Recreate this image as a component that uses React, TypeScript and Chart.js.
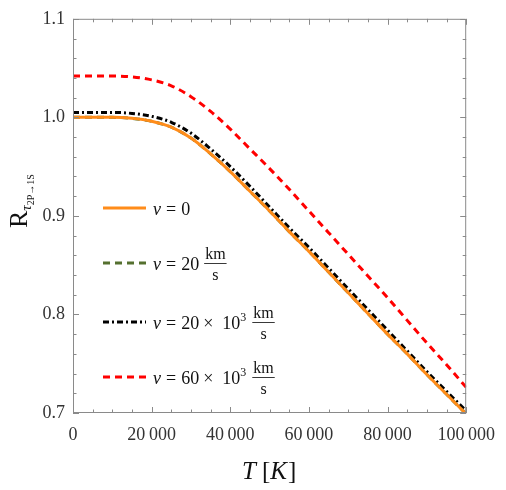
import React, { useEffect, useRef } from 'react';
import { Chart, registerables } from 'chart.js';

Chart.register(...registerables);

// Temperature grid (K)
const temperatures = [0, 5000, 10000, 15000, 20000, 25000, 30000, 35000, 40000, 45000, 50000, 55000, 60000, 65000, 70000, 75000, 80000, 85000, 90000, 95000, 100000];
// v = 0
const rV0 = [1.0, 1.0, 1.0, 0.999, 0.996, 0.99, 0.979, 0.963, 0.945, 0.925, 0.905, 0.884, 0.864, 0.843, 0.822, 0.801, 0.78, 0.76, 0.739, 0.719, 0.699];
// v = 20 km/s
const rV20 = [1.0, 1.0, 1.0, 0.999, 0.996, 0.99, 0.979, 0.963, 0.945, 0.925, 0.905, 0.884, 0.864, 0.843, 0.822, 0.801, 0.78, 0.76, 0.739, 0.719, 0.699];
// v = 20 x 10^3 km/s
const rV20k = [1.005, 1.005, 1.005, 1.004, 1.001, 0.995, 0.984, 0.968, 0.95, 0.93, 0.909, 0.888, 0.868, 0.847, 0.826, 0.805, 0.784, 0.763, 0.742, 0.722, 0.702];
// v = 60 x 10^3 km/s
const rV60k = [1.042, 1.042, 1.042, 1.041, 1.038, 1.032, 1.021, 1.006, 0.988, 0.968, 0.948, 0.927, 0.905, 0.883, 0.861, 0.839, 0.817, 0.794, 0.771, 0.749, 0.726];

const xTickValues = [0, 20000, 40000, 60000, 80000, 100000];
const yTickValues = [0.7, 0.8, 0.9, 1.0, 1.1];

const SERIF = '"Liberation Serif", "DejaVu Serif", serif';
const FRAME = '#8a8a8a';

type Part = { text: string; italic?: boolean; size: number; dy?: number; gap?: number };

function drawRun(ctx: CanvasRenderingContext2D, x: number, y: number, parts: Part[]) {
  for (const p of parts) {
    ctx.font = `${p.italic ? 'italic ' : ''}${p.size}px ${SERIF}`;
    ctx.fillText(p.text, x, y + (p.dy || 0));
    x += ctx.measureText(p.text).width + (p.gap || 0);
  }
  return x;
}

function drawFraction(ctx: CanvasRenderingContext2D, x: number, lineY: number, num: string, den: string, size: number) {
  ctx.font = `${size}px ${SERIF}`;
  const w = Math.max(ctx.measureText(num).width, ctx.measureText(den).width) + 2;
  ctx.textAlign = 'center';
  ctx.fillText(num, x + w / 2, lineY - 4);
  ctx.fillText(den, x + w / 2, lineY + 17);
  ctx.textAlign = 'left';
  ctx.beginPath();
  ctx.lineWidth = 0.9;
  ctx.strokeStyle = '#222';
  ctx.setLineDash([]);
  ctx.moveTo(x, lineY + 0.5);
  ctx.lineTo(x + w, lineY + 0.5);
  ctx.stroke();
  return x + w;
}

const legendItems = [
  { color: '#ff8c1a', dash: [] as number[], y: 208 },
  { color: '#55702f', dash: [7, 5], y: 263 },
  { color: '#000000', dash: [6, 3, 2, 3], y: 322 },
  { color: '#ff0000', dash: [7, 5], y: 377 },
];

const decorPlugin = {
  id: 'decor',
  afterDraw(chart: any) {
    const ctx: CanvasRenderingContext2D = chart.ctx;
    const { left, right, top, bottom } = chart.chartArea;
    const xs = chart.scales.x;
    const ys = chart.scales.y;
    ctx.save();
    // frame
    ctx.strokeStyle = FRAME;
    ctx.lineWidth = 1;
    ctx.setLineDash([]);
    ctx.beginPath();
    ctx.rect(left + 0.5, top + 0.5, right - left - 1, bottom - top - 1);
    ctx.stroke();
    // x ticks (bottom & top)
    ctx.beginPath();
    for (let v = 0; v <= 100000; v += 5000) {
      const px = Math.round(xs.getPixelForValue(v)) + 0.5;
      const len = v % 20000 === 0 ? 6 : 3.5;
      ctx.moveTo(px, bottom);
      ctx.lineTo(px, bottom - len);
      ctx.moveTo(px, top);
      ctx.lineTo(px, top + len);
    }
    // y ticks (left & right)
    for (let i = 0; i <= 20; i++) {
      const v = 0.7 + i * 0.02;
      const py = Math.round(ys.getPixelForValue(v)) + 0.5;
      const len = i % 5 === 0 ? 6 : 3.5;
      ctx.moveTo(left, py);
      ctx.lineTo(left + len, py);
      ctx.moveTo(right, py);
      ctx.lineTo(right - len, py);
    }
    ctx.stroke();

    // legend
    ctx.fillStyle = '#111';
    ctx.textBaseline = 'alphabetic';
    legendItems.forEach((it, i) => {
      ctx.beginPath();
      ctx.strokeStyle = it.color;
      ctx.lineWidth = 3;
      ctx.setLineDash(it.dash);
      ctx.moveTo(103, it.y);
      ctx.lineTo(146, it.y);
      ctx.stroke();
      ctx.setLineDash([]);
      const by = it.y + 7;
      let x = 153;
      if (i === 0) {
        drawRun(ctx, x, by, [
          { text: 'v', italic: true, size: 18, gap: 5 },
          { text: '=', size: 18, gap: 5 },
          { text: '0', size: 18 },
        ]);
      } else if (i === 1) {
        x = drawRun(ctx, x, by, [
          { text: 'v', italic: true, size: 18, gap: 5 },
          { text: '=', size: 18, gap: 5 },
          { text: '20', size: 18, gap: 5 },
        ]);
        drawFraction(ctx, x, it.y, 'km', 's', 16);
      } else {
        const lead = i === 2 ? '20' : '60';
        x = drawRun(ctx, x, by, [
          { text: 'v', italic: true, size: 18, gap: 5 },
          { text: '=', size: 18, gap: 5 },
          { text: lead, size: 18, gap: 4 },
          { text: '\u00d7', size: 18, gap: 9 },
          { text: '10', size: 18 },
          { text: '3', size: 12, dy: -8, gap: 6 },
        ]);
        drawFraction(ctx, x, it.y, 'km', 's', 16);
      }
    });

    // x title
    ctx.fillStyle = '#111';
    ctx.font = `italic 24px ${SERIF}`;
    drawRun(ctx, 242, 479, [
      { text: 'T', italic: true, size: 25, gap: 6 },
      { text: '[', size: 25 },
      { text: 'K', italic: true, size: 25, gap: 1 },
      { text: ']', size: 25 },
    ]);

    // y title (rotated)
    ctx.save();
    ctx.translate(27, 228);
    ctx.rotate(-Math.PI / 2);
    drawRun(ctx, 0, 0, [
      { text: 'R', size: 26, gap: 0 },
      { text: '\u03c4', italic: true, size: 15, dy: 4 },
      { text: '2P\u21921S', size: 10, dy: 7 },
    ]);
    ctx.restore();

    ctx.restore();
  },
};

function fmtX(v: number) {
  if (v === 0) return '0';
  const s = String(v);
  return s.slice(0, s.length - 3) + '\u2009' + s.slice(-3);
}

export default function App() {
  const ref = useRef<HTMLCanvasElement>(null);
  useEffect(() => {
    const mk = (arr: number[]) => temperatures.map((t, i) => ({ x: t, y: arr[i] }));
    const chart = new Chart(ref.current!, {
      type: 'line',
      data: {
        datasets: [
          { label: 'v = 0', data: mk(rV0), borderColor: '#ff8c1a', borderWidth: 3, pointRadius: 0, cubicInterpolationMode: 'monotone', fill: false },
          { label: 'v = 20 km/s', data: mk(rV20), borderColor: '#55702f', borderWidth: 3, borderDash: [7, 5], pointRadius: 0, cubicInterpolationMode: 'monotone', fill: false },
          { label: 'v = 20×10³ km/s', data: mk(rV20k), borderColor: '#000000', borderWidth: 3, borderDash: [6, 3, 2, 3], pointRadius: 0, cubicInterpolationMode: 'monotone', fill: false },
          { label: 'v = 60×10³ km/s', data: mk(rV60k), borderColor: '#ff0000', borderWidth: 3, borderDash: [7, 5], pointRadius: 0, cubicInterpolationMode: 'monotone', fill: false },
        ],
      },
      options: {
        responsive: false,
        animation: false,
        layout: { padding: { left: 0, right: 33, top: 14, bottom: 0 } },
        plugins: { legend: { display: false }, tooltip: { enabled: false } },
        scales: {
          x: {
            type: 'linear',
            min: 0,
            max: 100000,
            border: { display: false },
            grid: { display: false, drawTicks: false },
            afterBuildTicks: (s: any) => { s.ticks = xTickValues.map((v) => ({ value: v })); },
            afterFit: (s: any) => { s.height = 77; },
            ticks: {
              autoSkip: false,
              maxRotation: 0,
              padding: 11,
              color: '#333',
              font: { family: SERIF, size: 18 },
              callback: (v: any) => fmtX(Number(v)),
            },
          },
          y: {
            type: 'linear',
            min: 0.7,
            max: 1.1,
            border: { display: false },
            grid: { display: false, drawTicks: false },
            afterBuildTicks: (s: any) => { s.ticks = yTickValues.map((v) => ({ value: v })); },
            afterFit: (s: any) => { s.width = 73; },
            ticks: {
              padding: 8,
              color: '#333',
              font: { family: SERIF, size: 18 },
              callback: (v: any) => Number(v).toFixed(1),
            },
          },
        },
      },
      plugins: [decorPlugin],
    } as any);
    return () => chart.destroy();
  }, []);
  return (
    <div style={{ position: 'fixed', left: 0, top: 0, width: 506, height: 490, background: '#fff' }}>
      <canvas ref={ref} width={506} height={490} style={{ width: 506, height: 490 }} />
    </div>
  );
}
